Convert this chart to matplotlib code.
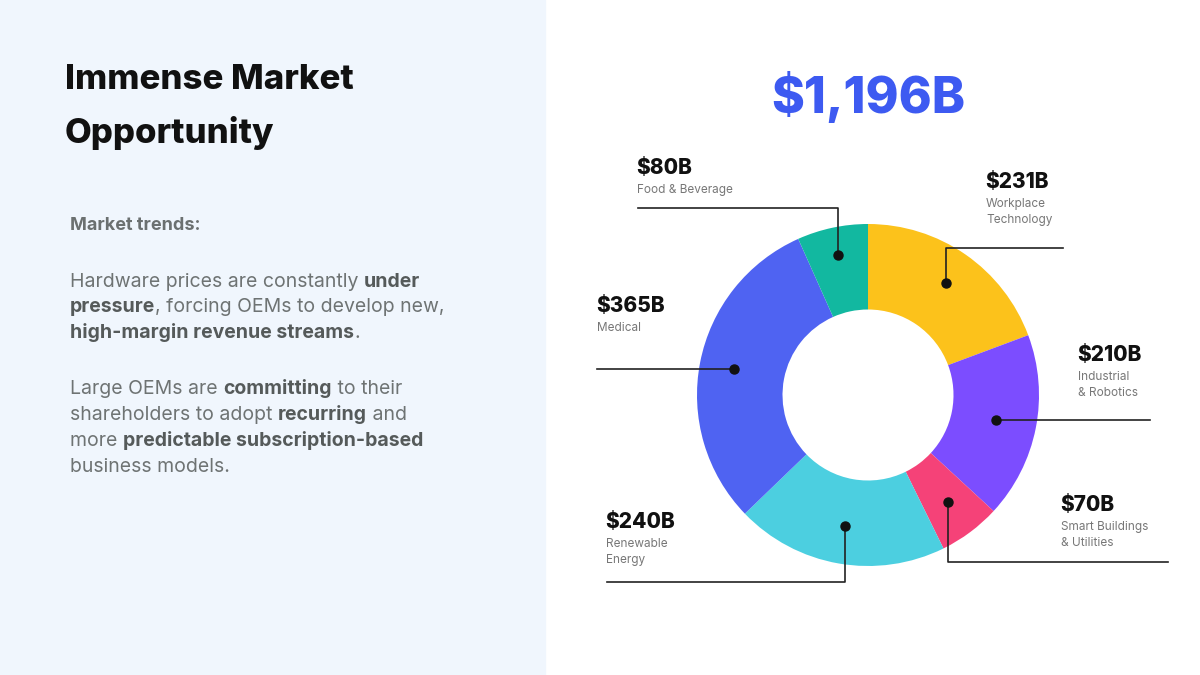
import matplotlib
matplotlib.use("Agg")
import matplotlib.pyplot as plt
import numpy as np

categories = ["Workplace\nTechnology", "Industrial\n& Robotics", "Smart Buildings\n& Utilities",
              "Renewable\nEnergy", "Medical", "Food & Beverage"]
values = [231, 210, 70, 240, 365, 80]
value_labels = ["$231B", "$210B", "$70B", "$240B", "$365B", "$80B"]
total_label = "$1,196B"
colors = ["#fcc21b", "#7c4dff", "#f54278", "#4ccfe0", "#4f63f2", "#12b8a0"]

FONT = ["Inter", "DejaVu Sans"]
W, H = 1200, 675
fig = plt.figure(figsize=(12, 6.75), dpi=100)
bg = fig.add_axes([0, 0, 1, 1])
bg.set_xlim(0, W); bg.set_ylim(H, 0); bg.axis("off")
bg.axvspan(0, 545, color="#f0f6fd", zorder=0)

# donut
cx, cy, R = 868, 395, 171
pax = fig.add_axes([(cx - R) / W, (H - cy - R) / H, 2 * R / W, 2 * R / H])
wedges, _ = pax.pie(values, colors=colors, startangle=90, counterclock=False,
                    wedgeprops=dict(width=0.5, edgecolor="none"))
pax.set_xlim(-1, 1); pax.set_ylim(-1, 1)
pax.set_aspect("equal"); pax.axis("off")

top = fig.add_axes([0, 0, 1, 1])
top.set_xlim(0, W); top.set_ylim(H, 0); top.axis("off")
top.patch.set_alpha(0)

layout = [
    dict(lx=985, ly=182, ry=248, ex=1063, r=0.80),
    dict(lx=1077, ly=355, ry=None, ex=1150, r=0.76),
    dict(lx=1060, ly=505, ry=562, ex=1168, r=0.78),
    dict(lx=605, ly=522, ry=582, ex=607, r=0.78),
    dict(lx=596, ly=306, ry=None, ex=597, r=0.80),
    dict(lx=636, ly=168, ry=208, ex=638, r=0.84),
]
for w, lay, cat, vl in zip(wedges, layout, categories, value_labels):
    ang = np.deg2rad((w.theta1 + w.theta2) / 2)
    dx = cx + lay["r"] * R * np.cos(ang)
    dy = cy - lay["r"] * R * np.sin(ang)
    if lay["ry"] is None:
        top.plot([dx, lay["ex"]], [dy, dy], color="#222222", lw=1.2, zorder=3)
    else:
        top.plot([dx, dx, lay["ex"]], [dy, lay["ry"], lay["ry"]], color="#222222", lw=1.2, zorder=3)
    top.plot([dx], [dy], "o", color="#111111", ms=6.5, zorder=4)
    top.text(lay["lx"], lay["ly"], vl, fontsize=15, fontweight="heavy", family=FONT,
             color="#111111", ha="left", va="center")
    top.text(lay["lx"] + 1, lay["ly"] + 16, cat, fontsize=8.5, family=FONT, color="#777777",
             ha="left", va="top", linespacing=1.45)

top.text(868, 97, total_label, fontsize=36, fontweight="heavy", family=FONT,
         color="#3d5af1", ha="center", va="center")

# left panel
top.text(65, 80, "Immense Market", fontsize=25, fontweight="heavy", family=FONT,
         color="#111111", ha="left", va="center")
top.text(65, 133, "Opportunity", fontsize=25, fontweight="heavy", family=FONT,
         color="#111111", ha="left", va="center")
top.text(70, 226, "Market trends:", fontsize=13, fontweight="bold", family=FONT,
         color="#6b7070", ha="left", va="center")

renderer = fig.canvas.get_renderer()
def runs(y, parts):
    x = 70
    for txt, bold in parts:
        t = top.text(x, y, txt, fontsize=14, family=FONT,
                     fontweight="bold" if bold else "normal",
                     color="#555a5a" if bold else "#6e7373", ha="left", va="center")
        x += t.get_window_extent(renderer).width
lines = [
    (282, [("Hardware prices are constantly ", False), ("under", True)]),
    (307, [("pressure", True), (", forcing OEMs to develop new,", False)]),
    (333, [("high-margin revenue streams", True), (".", False)]),
    (389, [("Large OEMs are ", False), ("committing", True), (" to their", False)]),
    (415, [("shareholders to adopt ", False), ("recurring", True), (" and", False)]),
    (441, [("more ", False), ("predictable subscription-based", True)]),
    (467, [("business models.", False)]),
]
for y, parts in lines:
    runs(y, parts)

fig.savefig("out.png", dpi=100)
